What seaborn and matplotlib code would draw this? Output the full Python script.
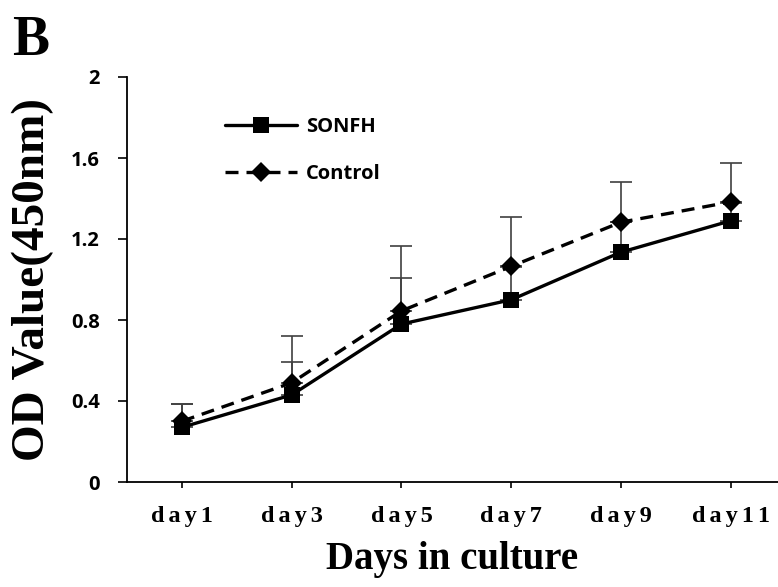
import matplotlib
matplotlib.use("Agg")
import matplotlib.pyplot as plt
import seaborn as sns
import pandas as pd
import numpy as np

days = ["day1", "day3", "day5", "day7", "day9", "day11"]
sonfh = [0.27, 0.43, 0.78, 0.90, 1.135, 1.29]
sonfh_err = [0.115, 0.163, 0.227, 0.16, 0.15, 0.09]
control = [0.30, 0.49, 0.845, 1.065, 1.283, 1.383]
control_err = [0.085, 0.23, 0.32, 0.245, 0.197, 0.19]
yticks = [0, 0.4, 0.8, 1.2, 1.6, 2]
ytick_labels = ["0", "0.4", "0.8", "1.2", "1.6", "2"]

sns.set_theme(style="white")
plt.rcParams["font.family"] = ["DejaVu Sans"]

pos = np.arange(len(days))
df = pd.DataFrame({
    "pos": np.concatenate([pos, pos]),
    "value": sonfh + control,
    "group": ["SONFH"] * len(days) + ["Control"] * len(days),
})

fig = plt.figure(figsize=(7.78, 5.87), dpi=100)
ax = fig.add_axes([127 / 778, 1 - 482 / 587, 1 - 127 / 778, (482 - 77) / 587])

# upward-only error bars
ax.errorbar(pos, sonfh, yerr=[np.zeros(len(pos)), sonfh_err], fmt="none",
            ecolor="#404040", elinewidth=1.2, capsize=8, capthick=1.2, zorder=1)
ax.errorbar(pos, control, yerr=[np.zeros(len(pos)), control_err], fmt="none",
            ecolor="#404040", elinewidth=1.2, capsize=8, capthick=1.2, zorder=1)

sns.lineplot(data=df, x="pos", y="value", hue="group", style="group",
             hue_order=["SONFH", "Control"], style_order=["SONFH", "Control"],
             palette={"SONFH": "black", "Control": "black"},
             markers={"SONFH": "s", "Control": "D"},
             dashes={"SONFH": "", "Control": (3.9, 2.4)},
             markersize=11, linewidth=2.4, markeredgewidth=0,
             ax=ax, zorder=3, legend=True)
for ln in ax.lines:
    if ln.get_marker() == "D":
        ln.set_markersize(10)

ax.set_xlim(-0.5, 5.43)
ax.set_ylim(0, 2)
ax.set_yticks(yticks)
ax.set_yticklabels(ytick_labels)
ax.set_xticks(pos)
ax.set_xticklabels(["\u2006".join(d) for d in days])

for s in ["top", "right"]:
    ax.spines[s].set_visible(False)
for s in ["left", "bottom"]:
    ax.spines[s].set_color("black")
    ax.spines[s].set_linewidth(1.3)

ax.tick_params(axis="y", direction="out", length=6.5, width=1.2, color="black",
               left=True, pad=13)
ax.tick_params(axis="x", direction="out", length=4, width=1.2, color="black",
               bottom=True, pad=13)
for t in ax.get_yticklabels():
    t.set_fontfamily(["Open Sans", "DejaVu Sans"])
    t.set_fontweight("bold")
    t.set_fontsize(14.5)
    t.set_color("black")
for t in ax.get_xticklabels():
    t.set_fontfamily(["Liberation Serif", "DejaVu Serif"])
    t.set_fontweight("bold")
    t.set_fontsize(17.5)
    t.set_color("black")

ax.set_xlabel("Days in culture", fontfamily=["Liberation Serif"], fontweight="bold",
              fontsize=28, color="black", labelpad=10)
ax.set_ylabel("OD Value(450nm)", fontfamily=["Liberation Serif"], fontweight="bold",
              fontsize=34, color="black", labelpad=12)

leg = ax.legend(loc="upper left", bbox_to_anchor=(0.15, 0.90), frameon=False,
                borderpad=0, borderaxespad=0,
                handlelength=3.6, handletextpad=0.45, labelspacing=1.3,
                prop={"family": "Open Sans", "weight": "bold", "size": 14.5})
for h in leg.legend_handles:
    h.set_linewidth(2.4)
for t in leg.get_texts():
    t.set_color("black")

fig.text(12 / 778, 1 - 55 / 587, "B", fontfamily="Liberation Serif", fontweight="bold",
         fontsize=40, color="black")

fig.savefig("out.png", dpi=100)
